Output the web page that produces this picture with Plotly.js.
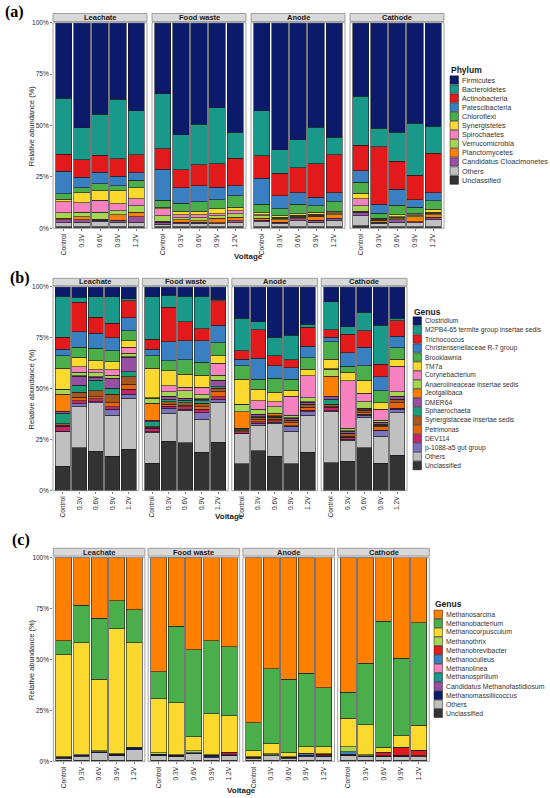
<!DOCTYPE html>
<html><head><meta charset="utf-8">
<script src="https://cdn.plot.ly/plotly-3.0.1.min.js"></script>
<style>html,body{margin:0;padding:0;background:#fff}#chart{width:550px;height:798px}</style>
</head><body><div id="chart"></div>
<script>
// ---------- shared categories ----------
const voltages = ['Control', '0.3V', '0.6V', '0.9V', '1.2V'];
const facets = ['Leachate', 'Food waste', 'Anode', 'Cathode'];

// ---------- panel (a): Phylum (values: Leachate x5, Food waste x5, Anode x5, Cathode x5) ----------
const phylumNames = ['Firmicutes', 'Bacteroidetes', 'Actinobacteria', 'Patescibacteria', 'Chloroflexi', 'Synergistetes',
  'Spirochaetes', 'Verrucomicrobia', 'Planctomycetes', 'Candidatus Cloacimonetes', 'Others', 'Unclassified'];
const phylumColors = ['#0b1a6b', '#18998a', '#e31a1c', '#3a7fc1', '#4aae4a', '#fcd92e',
  '#f782c0', '#a5d653', '#ff8000', '#984ea3', '#c0c0c0', '#333333'];
const firmicutes      = [36.8, 51.1, 44.6, 37.3, 42.9, 34.5, 54.5, 49.4, 41.3, 53.3, 42.8, 61.7, 57.0, 50.9, 55.6, 35.7, 51.4, 53.3, 48.8, 50.4];
const bacteroidetes   = [27.1, 15.5, 19.9, 28.8, 21.4, 26.9, 16.8, 19.6, 27.1, 12.7, 21.9, 11.6, 13.5, 17.8, 8.7, 23.9, 8.9, 14.1, 25.3, 13.0];
const actinobacteria  = [8.4, 8.6, 8.3, 8.5, 8.8, 9.8, 8.9, 10.3, 11.5, 13.3, 11.0, 10.8, 12.2, 16.2, 18.4, 12.4, 27.9, 13.6, 12.0, 19.3];
const patescibacteria = [10.8, 5.0, 5.6, 4.7, 3.6, 15.2, 7.6, 7.6, 6.0, 4.8, 12.5, 6.3, 5.6, 4.1, 4.5, 5.6, 4.5, 7.8, 3.7, 4.0];
const chloroflexi     = [2.8, 2.6, 3.4, 2.4, 3.5, 3.4, 3.8, 4.8, 4.5, 5.7, 4.2, 3.6, 4.7, 3.2, 4.4, 5.4, 2.4, 4.7, 3.1, 4.1];
const synergistetes   = [1.3, 4.7, 4.6, 6.3, 5.5, 0.6, 1.6, 1.5, 2.3, 1.6, 1.0, 0.6, 0.6, 1.0, 0.8, 2.7, 0.3, 0.8, 0.6, 1.3];
const spirochaetes    = [5.2, 4.7, 5.7, 3.4, 3.3, 3.6, 1.5, 1.5, 1.1, 1.5, 0.5, 0.4, 0.5, 0.5, 0.5, 3.3, 0.3, 0.3, 0.3, 0.5];
const verrucomicrobia = [2.7, 2.3, 3.4, 2.1, 3.1, 2.6, 1.0, 1.6, 1.1, 1.8, 1.2, 0.8, 0.6, 0.5, 0.6, 2.6, 0.5, 0.8, 0.5, 0.8];
const planctomycetes  = [0.8, 1.4, 0.5, 2.6, 2.2, 0.4, 1.3, 0.6, 2.3, 1.6, 1.0, 1.2, 0.6, 1.8, 1.6, 0.5, 0.8, 0.5, 2.4, 1.3];
const cloacimonetes   = [1.3, 1.2, 0.8, 1.0, 2.8, 1.0, 0.6, 0.6, 0.6, 1.0, 0.8, 0.8, 1.0, 1.0, 1.0, 1.9, 0.6, 1.2, 0.7, 0.8];
const phylumOthers    = [2.0, 2.1, 2.4, 2.1, 2.1, 1.2, 1.5, 1.6, 1.3, 1.9, 2.3, 1.4, 2.9, 2.2, 3.1, 4.7, 1.6, 2.1, 1.8, 3.7];
const phylumUnclass   = [0.8, 0.8, 0.8, 0.8, 0.8, 0.8, 0.8, 0.8, 0.8, 0.8, 0.8, 0.8, 0.8, 0.8, 0.8, 1.3, 0.8, 0.8, 0.8, 0.8];

// ---------- panel (b): Genus ----------
const genusNames = ['Clostridium', 'M2PB4-65 termite group insertae sedis', 'Trichococcus', 'Christensenellaceae R-7 group',
  'Brooklawnia', 'TM7a', 'Corynebacterium', 'Anaerolineaceae insertae sedis', 'Jeotgalibaca', 'DMER64', 'Sphaerochaeta',
  'Synergistaceae insertae sedis', 'Petrimonas', 'DEV114', 'p-1088-a5 gut group', 'Others', 'Unclassified'];
const genusColors = ['#0b1a6b', '#18998a', '#e31a1c', '#3a7fc1', '#4aae4a', '#fcd92e', '#f782c0', '#a5d653', '#ff8000',
  '#984ea3', '#1b9e77', '#a6561e', '#e6650a', '#c4246b', '#7b72c0', '#c0c0c0', '#333333'];
const clostridium     = [4.6, 5.2, 4.9, 4.9, 6.0, 4.9, 4.1, 4.6, 4.6, 6.2, 15.4, 17.2, 24.8, 23.7, 18.5, 7.4, 19.6, 12.6, 18.8, 15.5];
const m2pb4           = [20.2, 2.5, 10.1, 13.1, 0.9, 20.9, 6.0, 12.7, 16.0, 0.8, 16.0, 4.0, 9.0, 12.2, 1.4, 13.8, 3.6, 9.1, 19.1, 1.3];
const trichococcus    = [5.8, 14.4, 7.9, 7.0, 8.3, 4.9, 16.9, 9.3, 6.0, 11.8, 4.2, 13.9, 4.9, 3.8, 9.2, 3.6, 9.2, 8.0, 6.2, 7.4];
const christensen     = [3.2, 7.6, 7.3, 6.5, 6.4, 3.1, 9.3, 9.3, 10.5, 8.7, 3.1, 10.2, 6.2, 5.7, 5.7, 2.2, 6.5, 9.0, 7.0, 5.7];
const brooklawnia     = [6.2, 4.9, 6.1, 5.4, 5.0, 6.2, 4.9, 6.9, 6.4, 6.3, 6.7, 4.9, 6.9, 5.3, 5.7, 8.5, 3.1, 7.1, 5.8, 5.6];
const tm7a            = [10.2, 4.6, 4.5, 3.9, 3.1, 14.4, 7.3, 6.5, 5.8, 3.8, 12.1, 5.7, 4.6, 2.9, 3.1, 4.7, 4.2, 6.5, 3.1, 3.4];
const corynebacterium = [0.3, 2.8, 1.5, 2.5, 3.0, 0.3, 3.0, 1.8, 3.6, 5.7, 0.3, 4.1, 2.4, 9.3, 10.8, 0.3, 23.2, 4.1, 5.4, 12.6];
const anaerolineaceae = [2.1, 1.6, 1.8, 1.6, 1.6, 2.5, 2.1, 3.6, 2.0, 2.5, 3.5, 2.4, 3.3, 1.3, 2.0, 3.3, 1.2, 3.2, 1.1, 2.1];
const jeotgalibaca    = [8.5, 0.3, 0.3, 0.3, 0.3, 8.2, 0.3, 0.3, 0.3, 0.3, 8.1, 0.3, 1.1, 0.3, 0.3, 9.8, 0.3, 0.3, 0.3, 0.3];
const dmer64          = [1.0, 4.5, 1.4, 4.6, 7.1, 0.8, 1.3, 0.6, 0.8, 2.9, 0.3, 1.0, 0.4, 0.9, 0.8, 1.6, 1.0, 0.3, 0.7, 1.3];
const sphaerochaeta   = [5.2, 3.4, 5.3, 3.0, 2.4, 2.4, 1.2, 1.3, 1.2, 0.8, 0.3, 0.3, 0.3, 0.3, 0.3, 2.3, 0.3, 0.3, 0.3, 0.3];
const synergistaceae  = [0.5, 2.5, 2.8, 4.1, 3.6, 0.4, 1.1, 1.1, 1.6, 1.7, 0.6, 1.0, 1.0, 1.1, 1.2, 1.3, 1.0, 1.3, 0.8, 1.4];
const petrimonas      = [0.6, 1.5, 1.0, 1.9, 2.6, 0.4, 1.0, 0.8, 1.2, 2.4, 0.4, 1.2, 0.8, 1.3, 1.6, 0.4, 0.5, 0.6, 1.7, 2.7];
const dev114          = [2.5, 1.5, 1.5, 1.2, 2.3, 1.7, 1.1, 1.2, 1.8, 1.3, 0.9, 0.8, 0.8, 0.4, 0.8, 1.6, 1.0, 0.6, 0.4, 0.4];
const p1088           = [0.3, 1.5, 0.5, 3.1, 2.1, 0.3, 2.5, 0.5, 3.1, 1.5, 0.3, 0.8, 0.5, 2.4, 1.5, 0.3, 0.5, 1.0, 2.5, 1.8];
const genusOthers     = [16.7, 20.1, 23.8, 19.9, 24.9, 15.2, 13.6, 16.1, 16.3, 19.6, 14.7, 12.6, 16.0, 16.0, 18.3, 25.2, 10.3, 14.9, 13.4, 20.7];
const genusUnclass    = [12.1, 21.1, 19.3, 17.0, 20.4, 13.4, 24.3, 23.4, 18.8, 23.7, 13.1, 19.6, 17.0, 13.1, 18.8, 13.7, 14.5, 21.1, 13.4, 17.5];

// ---------- panel (c): methanogen Genus ----------
const archaeaNames = ['Methanosarcina', 'Methanobacterium', 'Methanocorpusculum', 'Methanothrix', 'Methanobrevibacter',
  'Methanoculleus', 'Methanolinea', 'Methanospirillum', 'Candidatus Methanofastidiosum', 'Methanomassiliicoccus', 'Others', 'Unclassified'];
const archaeaColors = ['#ff8000', '#4aae4a', '#fcd92e', '#a5d653', '#e31a1c', '#3a7fc1', '#f782c0', '#18998a',
  '#984ea3', '#0b1a6b', '#c0c0c0', '#333333'];
const methanosarcina  = [40.8, 23.4, 29.9, 21.4, 25.8, 56.0, 33.7, 45.4, 41.2, 44.1, 81.0, 54.7, 59.8, 56.9, 64.2, 66.2, 52.0, 31.5, 49.8, 32.4];
const methanobacter   = [6.9, 18.6, 29.9, 13.7, 16.2, 13.4, 37.7, 42.5, 35.8, 33.7, 13.8, 36.6, 36.0, 35.9, 28.8, 12.6, 30.2, 61.8, 37.8, 50.1];
const methanocorp     = [50.0, 54.7, 35.0, 61.3, 51.3, 26.4, 25.5, 7.0, 20.1, 18.0, 2.9, 5.1, 1.9, 3.3, 3.6, 14.0, 14.7, 2.5, 5.7, 12.3];
const methanothrix    = [0.3, 0.2, 0.6, 0.2, 0.2, 0.8, 0.2, 1.0, 0.2, 0.2, 0.2, 0.3, 0.2, 0.2, 0.2, 2.5, 0.3, 0.2, 0.2, 0.2];
const methanobrevi    = [0, 0, 0, 0, 0, 0, 0, 0, 0.3, 1.1, 0, 0, 0, 0, 0.8, 0, 0, 1.6, 3.8, 2.4];
const methanoculleus  = [0.1, 0, 0, 0, 0, 0.4, 0, 0, 0, 0, 0, 0, 0, 0.8, 0, 1.3, 0, 0, 0.3, 0];
const methanolinea    = [0, 0, 0, 0, 0, 0, 0, 0, 0, 0, 0, 0, 0, 0, 0, 0.2, 0, 0, 0, 0];
const methanospir     = [0, 0, 0, 0, 0, 0, 0, 0, 0, 0, 0, 0, 0, 0, 0, 0.2, 0, 0, 0, 0];
const methanofastid   = [0, 0, 0, 0, 0, 0, 0, 0, 0, 0, 0, 0, 0, 0, 0, 0, 0, 0, 0, 0];
const methanomassil   = [0.5, 0.6, 0.4, 0.8, 1.1, 0.3, 0.6, 0.4, 0.6, 0.3, 0.5, 0.4, 0.5, 0.4, 0.4, 0.4, 0.5, 0.3, 0.4, 0.3];
const archaeaOthers   = [1.0, 2.0, 3.6, 2.1, 5.0, 2.2, 1.8, 3.1, 1.5, 2.3, 1.1, 2.4, 1.1, 2.0, 1.7, 2.1, 1.8, 1.8, 1.7, 2.0];
const archaeaUnclass  = [0.4, 0.5, 0.6, 0.5, 0.6, 0.5, 0.5, 0.6, 0.5, 0.5, 0.5, 0.5, 0.5, 0.5, 0.5, 0.5, 0.5, 0.5, 0.5, 0.5];

const yTickVals = [0, 25, 50, 75, 100];
const yTickText = ['0%', '25%', '50%', '75%', '100%'];

const phylumValues = [firmicutes, bacteroidetes, actinobacteria, patescibacteria, chloroflexi, synergistetes,
  spirochaetes, verrucomicrobia, planctomycetes, cloacimonetes, phylumOthers, phylumUnclass];
const genusValues = [clostridium, m2pb4, trichococcus, christensen, brooklawnia, tm7a, corynebacterium, anaerolineaceae,
  jeotgalibaca, dmer64, sphaerochaeta, synergistaceae, petrimonas, dev114, p1088, genusOthers, genusUnclass];
const archaeaValues = [methanosarcina, methanobacter, methanocorp, methanothrix, methanobrevi, methanoculleus, methanolinea,
  methanospir, methanofastid, methanomassil, archaeaOthers, archaeaUnclass];

// ---------- layout geometry (pixels) ----------
const W = 550, H = 798;
const PX = v => v / W, PY = v => 1 - v / H;
const FONT = 'Liberation Sans, Arial, Helvetica, sans-serif';

const panels = [
  {names: phylumNames, colors: phylumColors, values: phylumValues, legTitle: 'Phylum', label: '(a)', labelX: 3, labelY: 12,
   yTop: 22.7, yBot: 228.3, x0: 53, fw: 94, gap: 5, stripTop: 13.5, stripBot: 21.5,
   legX: 450, legTitleY: 70, legY0: 80, legStep: 9.1, legFont: 7.2, voltX: 248.5, voltY: 257},
  {names: genusNames, colors: genusColors, values: genusValues, legTitle: 'Genus', label: '(b)', labelX: 8, labelY: 278,
   yTop: 286.7, yBot: 490.7, x0: 53, fw: 85.8, gap: 3.6, stripTop: 278.3, stripBot: 285.7,
   legX: 413, legTitleY: 311.7, legY0: 321, legStep: 9.04, legFont: 6.7, voltX: 230, voltY: 516.5},
  {names: archaeaNames, colors: archaeaColors, values: archaeaValues, legTitle: 'Genus', label: '(c)', labelX: 10, labelY: 540,
   yTop: 557.3, yBot: 761.3, x0: 53.3, fw: 91.6, gap: 3.2, stripTop: 548.3, stripBot: 556,
   legX: 434, legTitleY: 604, legY0: 614.3, legStep: 9.0, legFont: 6.9, voltX: 241.5, voltY: 790.7}
];

const traces = [];
const layout = {
  width: W, height: H, margin: {l: 0, r: 0, t: 0, b: 0},
  paper_bgcolor: '#fff', plot_bgcolor: '#fff',
  barmode: 'stack', bargap: 0.1, showlegend: false,
  font: {family: FONT, color: '#222'},
  shapes: [], annotations: []
};

panels.forEach((p, k) => {
  const yId = k === 0 ? 'y' : 'y' + (k + 1);
  const yKey = k === 0 ? 'yaxis' : 'yaxis' + (k + 1);
  facets.forEach((fname, f) => {
    const idx = k * 4 + f + 1;
    const xId = idx === 1 ? 'x' : 'x' + idx;
    const xKey = idx === 1 ? 'xaxis' : 'xaxis' + idx;
    const left = p.x0 + f * (p.fw + p.gap), right = left + p.fw;
    layout[xKey] = {
      domain: [PX(left), PX(right)], anchor: yId, type: 'category',
      categoryorder: 'array', categoryarray: voltages, range: [-0.6, 4.6],
      tickangle: -90, ticks: 'outside', ticklen: 2, tickwidth: 0.6, tickcolor: '#333',
      tickfont: {size: 6.6, color: '#2a2a2a', family: FONT},
      showgrid: false, zeroline: false, showline: false, fixedrange: true
    };
    // bars: stack from bottom (last name) to top (first name)
    for (let i = p.names.length - 1; i >= 0; i--) {
      traces.push({
        type: 'bar', x: voltages, y: p.values[i].slice(f * 5, f * 5 + 5),
        xaxis: xId, yaxis: yId, name: p.names[i],
        marker: {color: p.colors[i], line: {color: '#1a1a1a', width: 0.6}},
        hovertemplate: fname + ' %{x}<br>' + p.names[i] + ': %{y}%<extra></extra>'
      });
    }
    // panel border
    layout.shapes.push({type: 'rect', xref: 'paper', yref: 'paper', layer: 'above',
      x0: PX(left), x1: PX(right), y0: PY(p.yBot), y1: PY(p.yTop),
      line: {color: '#8c8c8c', width: 0.8}, fillcolor: 'rgba(0,0,0,0)'});
    // facet strip
    layout.shapes.push({type: 'rect', xref: 'paper', yref: 'paper',
      x0: PX(left), x1: PX(right), y0: PY(p.stripBot), y1: PY(p.stripTop),
      line: {color: '#8c8c8c', width: 0.8}, fillcolor: '#d9d9d9'});
    layout.annotations.push({xref: 'paper', yref: 'paper', x: PX((left + right) / 2), y: PY((p.stripTop + p.stripBot) / 2),
      text: '<b>' + fname + '</b>', showarrow: false, xanchor: 'center', yanchor: 'middle',
      font: {size: 7.5, color: '#1a1a1a', family: FONT}});
  });
  layout[yKey] = {
    domain: [PY(p.yBot), PY(p.yTop)], anchor: k === 0 ? 'x' : 'x' + (k * 4 + 1),
    range: [0, 100], tickvals: yTickVals, ticktext: yTickText,
    ticks: 'outside', ticklen: 2, tickwidth: 0.6, tickcolor: '#333',
    tickfont: {size: 6.5, color: '#2a2a2a', family: FONT},
    showgrid: false, zeroline: false, showline: false, fixedrange: true
  };
  // y axis title
  layout.annotations.push({xref: 'paper', yref: 'paper', x: PX(31.7), y: PY((p.yTop + p.yBot) / 2),
    text: 'Relative abundance (%)', textangle: -90, showarrow: false, xanchor: 'center', yanchor: 'middle',
    font: {size: 7.5, color: '#222', family: FONT}});
  // Voltage label
  layout.annotations.push({xref: 'paper', yref: 'paper', x: PX(p.voltX), y: PY(p.voltY),
    text: '<b>Voltage</b>', showarrow: false, xanchor: 'center', yanchor: 'middle',
    font: {size: 8, color: '#222', family: FONT}});
  // panel label
  layout.annotations.push({xref: 'paper', yref: 'paper', x: PX(p.labelX), y: PY(p.labelY),
    text: '<b>' + p.label + '</b>', showarrow: false, xanchor: 'left', yanchor: 'middle',
    font: {size: 16, color: '#000', family: 'Liberation Serif, Times New Roman, serif'}});
  // legend
  layout.annotations.push({xref: 'paper', yref: 'paper', x: PX(p.legX - 1), y: PY(p.legTitleY),
    text: '<b>' + p.legTitle + '</b>', showarrow: false, xanchor: 'left', yanchor: 'middle',
    font: {size: 8.5, color: '#1a1a1a', family: FONT}});
  p.names.forEach((nm, j) => {
    const cy = p.legY0 + j * p.legStep;
    layout.shapes.push({type: 'rect', xref: 'paper', yref: 'paper',
      x0: PX(p.legX), x1: PX(p.legX + 8.5), y0: PY(cy + 4.2), y1: PY(cy - 4.2),
      line: {color: '#1a1a1a', width: 0.5}, fillcolor: p.colors[j]});
    layout.annotations.push({xref: 'paper', yref: 'paper', x: PX(p.legX + 10), y: PY(cy),
      text: nm, showarrow: false, xanchor: 'left', yanchor: 'middle',
      font: {size: p.legFont, color: '#333', family: FONT}});
  });
});

Plotly.newPlot('chart', traces, layout, {displayModeBar: false, staticPlot: true});
</script>
</body></html>
